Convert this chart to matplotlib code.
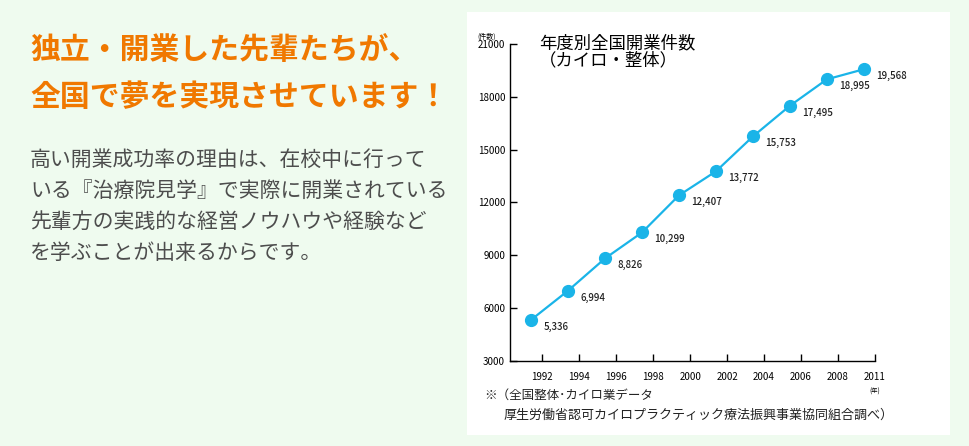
import matplotlib
matplotlib.use("Agg")
import matplotlib.pyplot as plt
from matplotlib.patches import Rectangle

plt.rcParams['font.family'] = ['Noto Sans CJK JP', 'DejaVu Sans']

values = [5336, 6994, 8826, 10299, 12407, 13772, 15753, 17495, 18995, 19568]
labels = ["5,336", "6,994", "8,826", "10,299", "12,407", "13,772", "15,753", "17,495", "18,995", "19,568"]
tick_labels = ["1992", "1994", "1996", "1998", "2000", "2002", "2004", "2006", "2008", "2011"]
yticks = [3000, 6000, 9000, 12000, 15000, 18000, 21000]

fig = plt.figure(figsize=(9.69, 4.46), dpi=100)
fig.patch.set_facecolor('#effbef')
fig.patches.append(Rectangle((467/969, 1-435/446), (950-467)/969, (435-12)/446,
                             transform=fig.transFigure, facecolor='white', edgecolor='none', zorder=-1))

fig.text(30/969, 1-50/446, "独立・開業した先輩たちが、", color='#f07800', fontsize=21.5, fontweight='bold', va='center')
fig.text(30/969, 1-97/446, "全国で夢を実現させています！", color='#f07800', fontsize=21.5, fontweight='bold', va='center')
body = ["高い開業成功率の理由は、在校中に行って",
        "いる『治療院見学』で実際に開業されている",
        "先輩方の実践的な経営ノウハウや経験など",
        "を学ぶことが出来るからです。"]
for i, line in enumerate(body):
    fig.text(30/969, 1-(160+31*i)/446, line, color='#4d4d4d', fontsize=15, va='center')

ax = fig.add_axes([510/969, 1-361/446, (875-510)/969, (361-44)/446], zorder=2)
ax.set_facecolor('none')
x = list(range(len(values)))
ax.plot(x, values, color='#1ab4e8', lw=1.6, marker='o', ms=8.5, zorder=3)
for xi, v, l in zip(x, values, labels):
    ax.annotate(l, (xi, v), xytext=(9, -5), textcoords='offset points', fontsize=7, va='center', ha='left',
                color='#222222', fontweight='medium')
ax.set_xlim(-0.57, 9.3)
ax.set_ylim(3000, 21000)
ax.set_yticks(yticks)
ax.set_yticklabels([str(t) for t in yticks], fontsize=7)
ax.set_xticks([i + 0.3 for i in x])
ax.set_xticklabels(tick_labels, fontsize=7)
ax.tick_params(axis='x', direction='in', length=5, pad=8, width=1)
ax.tick_params(axis='y', direction='in', length=5, width=1)
for s in ['top', 'right']:
    ax.spines[s].set_visible(False)
for s in ['left', 'bottom']:
    ax.spines[s].set_linewidth(1)
ax.text(-0.09, 1.01, "(件数)", transform=ax.transAxes, fontsize=5, ha='left', va='bottom')
ax.text(1.0, -0.085, "(年)", transform=ax.transAxes, fontsize=4.5, ha='center', va='top')
ax.text(0.08, 1.03, "年度別全国開業件数\n（カイロ・整体）", transform=ax.transAxes, fontsize=12.5,
        va='top', ha='left', linespacing=0.95)
fig.text(484/969, 1-395/446, "※（全国整体･カイロ業データ", fontsize=9, va='center', color='#222222')
fig.text(504/969, 1-415/446, "厚生労働省認可カイロプラクティック療法振興事業協同組合調べ）", fontsize=9.4, va='center', color='#222222')
fig.savefig("out.png", dpi=100, facecolor=fig.get_facecolor())
